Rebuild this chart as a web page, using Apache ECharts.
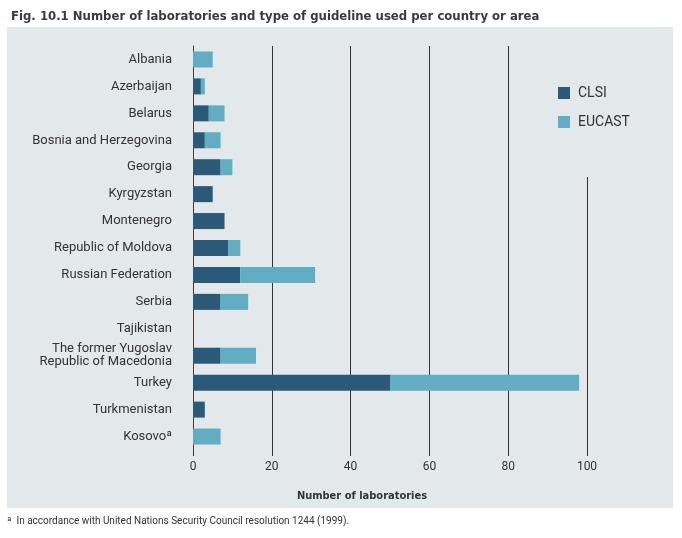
<!DOCTYPE html>
<html><head><meta charset="utf-8">
<script src="https://cdn.jsdelivr.net/npm/echarts@6/dist/echarts.min.js"></script>
<style>html,body{margin:0;padding:0;background:#fff}#c{width:682px;height:538px}</style>
</head><body><div id="c"></div>
<script>
const categories = ["Albania","Azerbaijan","Belarus","Bosnia and Herzegovina","Georgia","Kyrgyzstan","Montenegro","Republic of Moldova","Russian Federation","Serbia","Tajikistan","The former Yugoslav\nRepublic of Macedonia","Turkey","Turkmenistan","Kosovoª"];
const clsi   = [0, 2, 4, 3, 7, 5, 8, 9, 12, 7, 0, 7, 50, 3, 0];
const eucast = [5, 1, 4, 4, 3, 0, 0, 3, 19, 7, 0, 9, 48, 0, 7];
const xTicks = [0, 20, 40, 60, 80, 100];

const chart = echarts.init(document.getElementById('c'));
const FONT = 'Roboto';
chart.setOption({
  backgroundColor: '#ffffff',
  animation: false,
  title: {
    text: 'Fig. 10.1 Number of laboratories and type of guideline used per country or area',
    left: 6, top: 5,
    textStyle: {fontFamily: 'DejaVu Sans Condensed', fontWeight: 'bold', fontSize: 13, color: '#3a3a3a'}
  },
  graphic: [
    {type: 'rect', left: 7, top: 27, z: -10, shape: {width: 666, height: 481}, style: {fill: '#e3e8ea'}},
    {type: 'rect', left: 548, top: 46, z: 10, shape: {width: 60, height: 131}, style: {fill: '#e3e8ea'}},
    {type: 'text', left: 7, top: 516, style: {text: 'ª  In accordance with United Nations Security Council resolution 1244 (1999).', font: '10px Roboto', fill: '#333'}}
  ],
  legend: {
    data: ['CLSI', 'EUCAST'],
    orient: 'vertical', left: 558, top: 86, z: 20, padding: 0,
    itemWidth: 12, itemHeight: 12, itemGap: 15,
    icon: 'rect',
    textStyle: {fontFamily: FONT, fontSize: 14, color: '#333', padding: [0,0,0,3]}
  },
  grid: {left: 193, right: 95, top: 46, bottom: 88, containLabel: false},
  xAxis: {
    type: 'value', min: 0, max: 100, interval: 20,
    name: 'Number of laboratories', nameLocation: 'middle', nameGap: 41,
    nameTextStyle: {fontFamily: 'DejaVu Sans Condensed', fontWeight: 'bold', fontSize: 11, color: '#333', padding: [0, 56, 0, 0]},
    axisLine: {show: false},
    axisTick: {show: true, length: 6, lineStyle: {color: '#333', width: 1}},
    axisLabel: {fontFamily: FONT, fontSize: 12, color: '#333', margin: 11,
      formatter: v => xTicks.includes(v) ? String(v) : ''},
    splitLine: {show: true, lineStyle: {color: '#333', width: 1}}
  },
  yAxis: {
    type: 'category', data: categories, inverse: true,
    axisLine: {show: true, lineStyle: {color: '#4a3a34', width: 1}},
    axisTick: {show: false},
    axisLabel: {fontFamily: FONT, fontSize: 13, color: '#333', margin: 21, lineHeight: 13}
  },
  series: [
    {name: 'CLSI', type: 'bar', stack: 't', data: clsi, barWidth: 16, itemStyle: {color: '#2a5a78'}},
    {name: 'EUCAST', type: 'bar', stack: 't', data: eucast, barWidth: 16, itemStyle: {color: '#62adc2'}}
  ]
});
</script></body></html>
